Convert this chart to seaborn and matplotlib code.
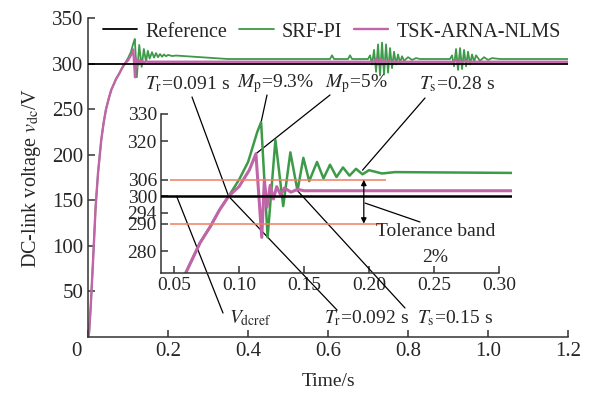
import numpy as np
import pandas as pd
import matplotlib
matplotlib.use('Agg')
import matplotlib.pyplot as plt
import matplotlib.transforms as mtransforms
from matplotlib.patches import ConnectionPatch
import seaborn as sns

# ---- values (time in s, DC-link voltage in V) ----
v_ref = 300
tol_high = 306
tol_low = 290

# start-up, both controllers on top of each other until the 300 V crossing
rise_t = [0, 0.0025, 0.0067, 0.011, 0.015, 0.019, 0.025, 0.033, 0.039, 0.045,
          0.052, 0.058, 0.065, 0.070, 0.078, 0.085, 0.092]
rise_v = [0, 4, 33, 70, 106, 143, 180, 216, 235, 250,
          262, 271, 278, 283, 289, 295, 300]

# SRF-PI after the crossing (inset range)
srf_t = [0.100, 0.107, 0.114, 0.117, 0.122, 0.128, 0.134, 0.1395, 0.145, 0.1495,
         0.154, 0.160, 0.165, 0.170, 0.175, 0.180, 0.185, 0.190, 0.195, 0.200,
         0.210, 0.220, 0.310]
srf_v = [306, 312.5, 323.4, 327, 285, 320.5, 296.4, 316, 302, 314,
         305.5, 312.5, 306.5, 311.5, 307, 310.5, 307.5, 310, 308, 309.5,
         308.3, 308.8, 308.5]

# TSK-ARNA-NLMS after the crossing (inset range)
tsk_t = [0.100, 0.108, 0.113, 0.1175, 0.1195, 0.1215, 0.124, 0.1265, 0.129, 0.132,
         0.135, 0.140, 0.145, 0.150, 0.310]
tsk_v = [303.5, 309.6, 315.5, 285, 306, 296, 304, 299, 303.5, 300.5,
         303, 301.5, 302.5, 302, 302]

# rest of the run, only seen in the main axes (disturbances near 0.72 s and 0.93 s)
srf_tail_t = [0.35, 0.605, 0.610, 0.615, 0.650, 0.655, 0.660,
              0.700, 0.705, 0.710, 0.715, 0.720, 0.725, 0.730, 0.735, 0.740, 0.745,
              0.750, 0.755, 0.760, 0.765, 0.770, 0.775, 0.780, 0.785, 0.790,
              0.800, 0.810, 0.820, 0.830,
              0.905, 0.910, 0.915, 0.920, 0.925, 0.930, 0.935, 0.940, 0.945, 0.950,
              0.955, 0.960, 0.965, 0.970, 0.980, 0.990, 1.000, 1.010, 1.030, 1.2]
srf_tail_v = [305, 305, 309, 305, 305, 309, 305,
              305, 309, 299, 315, 291, 321, 287, 323, 288, 321,
              290, 317, 295, 313, 299, 310, 301, 308, 303,
              307, 304, 306, 305,
              305, 309, 297, 316, 293, 317, 294, 315, 297, 313,
              299, 310, 302, 309, 303, 307, 304, 306, 305, 305]

tsk_tail_t = [0.35, 0.715, 0.720, 0.725, 0.730, 0.735, 0.740, 0.745, 0.750, 0.760,
              0.915, 0.920, 0.925, 0.930, 0.935, 0.940, 0.950, 1.2]
tsk_tail_v = [302, 302, 305, 299, 305, 299, 304, 300, 303, 302,
              302, 304, 300, 304, 300, 303, 302, 302]

ref_t = [0, 1.2]

main_xticks = [0, 0.2, 0.4, 0.6, 0.8, 1.0, 1.2]
main_xlabels = ['0', '0.2', '0.4', '0.6', '0.8', '1.0', '1.2']
main_yticks = [50, 100, 150, 200, 250, 300, 350]
inset_xticks = [0.05, 0.10, 0.15, 0.20, 0.25, 0.30]
inset_xlabels = ['0.05', '0.10', '0.15', '0.20', '0.25', '0.30']
inset_yticks = [280, 290, 294, 300, 306, 320, 330]

GREEN = '#3c9a48'
PURPLE = '#c264a8'
ORANGE = '#ef7e62'

# main axes: inset part up to 0.22 s, then the long tail
srf_main = pd.DataFrame({'t': rise_t + srf_t[:-1] + srf_tail_t,
                         'v': rise_v + srf_v[:-1] + srf_tail_v})
tsk_main = pd.DataFrame({'t': rise_t + tsk_t + tsk_tail_t, 'v': rise_v + tsk_v + tsk_tail_v})
srf_zoom = pd.DataFrame({'t': rise_t + srf_t, 'v': rise_v + srf_v})
tsk_zoom = pd.DataFrame({'t': rise_t + tsk_t, 'v': rise_v + tsk_v})
ref = pd.DataFrame({'t': ref_t, 'v': [v_ref] * len(ref_t)})

sns.set_style('ticks')
plt.rcParams['font.family'] = ['Liberation Serif', 'DejaVu Serif']
plt.rcParams['mathtext.fontset'] = 'stix'
plt.rcParams['axes.edgecolor'] = '#333333'


def fig_xy(px, py):
    # position given in pixels of the 590x394 canvas -> figure fraction
    return (px / 590, 1 - py / 394)


fig = plt.figure(figsize=(5.9, 3.94), dpi=100)
ax = fig.add_axes([0.1492, 0.1447, 0.8136, 0.8096])
axin = fig.add_axes([0.2729, 0.3071, 0.5949, 0.4036])

# main axes
sns.lineplot(data=srf_main, x='t', y='v', ax=ax, color=GREEN, lw=1.3,
             estimator=None, sort=False, label='SRF-PI')
sns.lineplot(data=tsk_main, x='t', y='v', ax=ax, color=PURPLE, lw=1.7,
             estimator=None, sort=False, label='TSK-ARNA-NLMS')
sns.lineplot(data=ref, x='t', y='v', ax=ax, color='black', lw=1.3,
             estimator=None, sort=False, label='Reference', zorder=3)

ax.set_xlim(0, 1.2)
ax.set_ylim(0, 350)
ax.set_xticks(main_xticks)
ax.set_xticklabels(main_xlabels)
ax.set_yticks(main_yticks)
ax.tick_params(direction='in', length=5, width=1.1, labelsize=15, color='#333333')
ax.set_xlabel('Time/s', fontsize=14, labelpad=9)
ax.set_ylabel(r'DC-link voltage $v_\mathrm{dc}$/V', fontsize=14.5, labelpad=6)
sns.despine(ax=ax)
for side in ['left', 'bottom']:
    ax.spines[side].set_linewidth(1.1)
# the "0" of the time axis sits a little to the left of the corner
zero_lbl = ax.get_xticklabels()[0]
zero_lbl.set_transform(zero_lbl.get_transform() +
                       mtransforms.ScaledTranslation(-0.12, 0, fig.dpi_scale_trans))

handles, labels = ax.get_legend_handles_labels()
order = [labels.index(n) for n in ['Reference', 'SRF-PI', 'TSK-ARNA-NLMS']]
ax.legend([handles[i] for i in order], [labels[i] for i in order],
          loc='center', bbox_to_anchor=fig_xy(332, 32), bbox_transform=fig.transFigure,
          ncol=3, frameon=False, fontsize=14.5, handlelength=1.7, handletextpad=0.4,
          columnspacing=0.6, borderpad=0)

# inset
axin.set_facecolor('none')
sns.lineplot(data=srf_zoom, x='t', y='v', ax=axin, color=GREEN, lw=1.8,
             estimator=None, sort=False)
sns.lineplot(data=tsk_zoom, x='t', y='v', ax=axin, color=PURPLE, lw=2.2,
             estimator=None, sort=False)
sns.lineplot(data=ref, x='t', y='v', ax=axin, color='black', lw=1.8,
             estimator=None, sort=False, zorder=3)
axin.hlines(tol_high, 0.047, 0.213, color=ORANGE, lw=1.1)
axin.hlines(tol_low, 0.047, 0.210, color=ORANGE, lw=1.1)
axin.annotate('', xy=(0.196, tol_high), xytext=(0.196, tol_low),
              arrowprops=dict(arrowstyle='<|-|>', color='black', lw=0.9,
                              mutation_scale=8, shrinkA=0, shrinkB=0))

axin.set_xlim(0.04, 0.31)
axin.set_ylim(272, 330)
axin.set_xticks(inset_xticks)
axin.set_xticklabels(inset_xlabels)
axin.set_yticks(inset_yticks)
axin.tick_params(direction='in', length=5, width=1.1, labelsize=14, color='#333333', pad=3)
axin.set_xlabel('')
axin.set_ylabel('')
sns.despine(ax=axin)
for side in ['left', 'bottom']:
    axin.spines[side].set_linewidth(1.1)
axin.spines['bottom'].set_bounds(0.04, 0.30)
axin.spines['left'].set_bounds(272, 330)
for lbl in axin.get_xticklabels():
    lbl.set_bbox(dict(facecolor='white', edgecolor='none', pad=0.5))

# annotation leaders: (text position, text, leader start, point on the data)
notes = [
    (fig_xy(188, 84), r'$T_\mathrm{r}$=0.091 s', fig_xy(192, 97), (0.092, v_ref)),
    (fig_xy(276, 84), r'$M_\mathrm{p}$=9.3%', fig_xy(267, 95), (0.117, 327)),
    (fig_xy(356, 84), r'$M_\mathrm{p}$=5%', fig_xy(330, 95), (0.113, 315.5)),
    (fig_xy(457, 84), r'$T_\mathrm{s}$=0.28 s', fig_xy(425, 98), (0.195, 309.5)),
    (fig_xy(250, 318), r'$V_\mathrm{dcref}$', fig_xy(223, 313), (0.052, v_ref)),
    (fig_xy(367, 318), r'$T_\mathrm{r}$=0.092 s', fig_xy(337, 310), (0.092, v_ref)),
    (fig_xy(455, 318), r'$T_\mathrm{s}$=0.15 s', fig_xy(405, 308), (0.145, 302)),
    (fig_xy(436, 232), 'Tolerance band', fig_xy(420, 222), (0.197, 297.5)),
]
for txt_pos, txt, start, target in notes:
    fig.text(txt_pos[0], txt_pos[1], txt, ha='center', va='center', fontsize=14)
    con = ConnectionPatch(xyA=start, coordsA='figure fraction', xyB=target,
                          coordsB='data', axesB=axin, color='black', lw=0.9,
                          clip_on=False, zorder=1)
    axin.add_artist(con)
fig.text(*fig_xy(435, 257), '2%', ha='center', va='center', fontsize=14)

fig.savefig('out.png', dpi=100)
